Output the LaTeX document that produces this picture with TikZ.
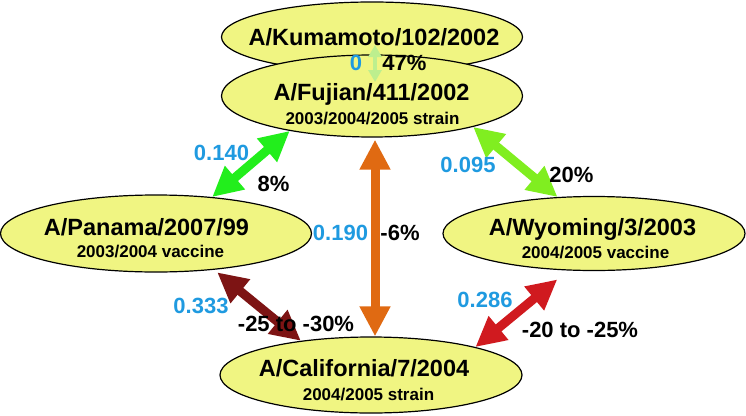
\documentclass[tikz,border=0pt]{standalone}
\usepackage{fontspec}
\setmainfont{Liberation Sans}
\usetikzlibrary{arrows.meta,shapes.geometric}

\tikzstyle{strain}=[ellipse, draw=black, line width=1.2pt, fill=StrainYellow, inner sep=0pt]
\tikzstyle{strain-name}=[anchor=base, inner sep=0pt, font=\fontsize{23.5}{28}\selectfont\bfseries]
\tikzstyle{strain-note}=[anchor=base, inner sep=0pt, font=\fontsize{17}{20}\selectfont\bfseries]
\tikzstyle{dist-label}=[inner sep=0pt, text=DistanceBlue, font=\fontsize{22}{26}\selectfont\bfseries]
\tikzstyle{titer-label}=[inner sep=0pt, font=\fontsize{22}{26}\selectfont\bfseries]
\tikzstyle{change}=[line width=9pt, {Triangle[length=30pt,width=29pt]}-{Triangle[length=30pt,width=29pt]}]
\tikzstyle{small-change}=[line width=4pt, {Triangle[length=12pt,width=13pt]}-{Triangle[length=12pt,width=13pt]}]
\definecolor{StrainYellow}{HTML}{F0F582}
\definecolor{DistanceBlue}{HTML}{1F9AE0}
\definecolor{ArrowPale}{HTML}{BDEF8E}
\definecolor{ArrowGreen}{HTML}{22EE1C}
\definecolor{ArrowLime}{HTML}{80EE20}
\definecolor{ArrowOrange}{HTML}{E06A12}
\definecolor{ArrowMaroon}{HTML}{7D1414}
\definecolor{ArrowRed}{HTML}{D01A1F}

\begin{document}
\begin{tikzpicture}[x=1pt, y=-1pt]
      \useasboundingbox (0,0) rectangle (746,415);

      \node (kumamoto)   at (372,37)    [strain, minimum width=301pt, minimum height=70pt] {};
      \node (fujian)     at (372,96)    [strain, minimum width=301pt, minimum height=82pt] {};
      \node (panama)     at (156,233.5) [strain, minimum width=311pt, minimum height=77pt] {};
      \node (wyoming)    at (594,233.5) [strain, minimum width=302pt, minimum height=74pt] {};
      \node (california) at (371,375)   [strain, minimum width=302pt, minimum height=76pt] {};

      \node (kumamoto-name)   at (374,45)    [strain-name] {A/Kumamoto/102/2002};
      \node (fujian-name)     at (371.5,100) [strain-name] {A/Fujian/411/2002};
      \node (fujian-note)     at (372.5,124) [strain-note] {2003/2004/2005 strain};
      \node (panama-name)     at (146.5,235) [strain-name] {A/Panama/2007/99};
      \node (panama-note)     at (150.5,257) [strain-note] {2003/2004 vaccine};
      \node (wyoming-name)    at (592.5,235) [strain-name] {A/Wyoming/3/2003};
      \node (wyoming-note)    at (595.5,258) [strain-note] {2004/2005 vaccine};
      \node (california-name) at (364,376)   [strain-name] {A/California/7/2004};
      \node (california-note) at (368.5,400) [strain-note] {2004/2005 strain};

      \draw[small-change, ArrowPale, shorten <=8pt, shorten >=14pt] ([xshift=3pt]kumamoto.center) -- ([xshift=3pt]fujian.center);
      \draw[change, ArrowGreen] (fujian.203) -- (panama.33);
      \draw[change, ArrowLime] (fujian.-17) -- (wyoming.135);
      \draw[change, ArrowOrange, shorten <=2pt] ([xshift=3pt]fujian.south) -- ([xshift=4pt]california.north);
      \draw[change, ArrowMaroon, shorten <=4pt] (panama.-32) -- (california.154);
      \draw[change, ArrowRed, shorten >=14pt] (california.15) -- (wyoming.235);

      \node (d-kumamoto)   at (356,62.5)    [dist-label] {0};
      \node (t-kumamoto)   at (404.5,62.5)  [titer-label] {47\%};
      \node (d-panama)     at (221.5,152.5) [dist-label] {0.140};
      \node (t-panama)     at (273.5,183.5) [titer-label] {8\%};
      \node (d-wyoming)    at (468,165)     [dist-label] {0.095};
      \node (t-wyoming)    at (571.5,175)   [titer-label] {20\%};
      \node (d-california) at (340.5,232.5) [dist-label] {0.190};
      \node (t-california) at (400,232.5)   [titer-label] {-6\%};
      \node (d-pan-cal)    at (201,305.5)   [dist-label] {0.333};
      \node (t-pan-cal)    at (296,323.5)   [titer-label] {-25 to -30\%};
      \node (d-wyo-cal)    at (485,299.5)   [dist-label] {0.286};
      \node (t-wyo-cal)    at (580,330)     [titer-label] {-20 to -25\%};
    \end{tikzpicture}
\end{document}
